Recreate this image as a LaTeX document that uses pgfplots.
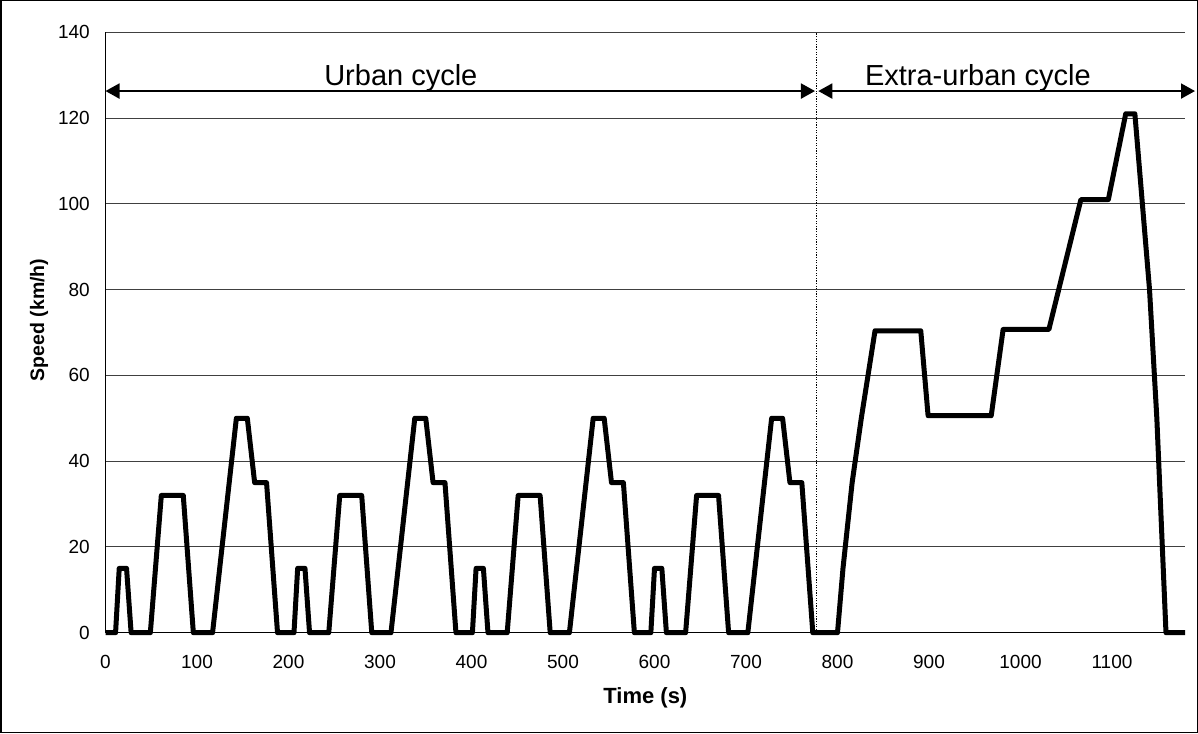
\documentclass[border=0pt]{standalone}
\usepackage{pgfplots}
\pgfplotsset{compat=1.18}
\usepackage{fontspec}
\setmainfont{Liberation Sans}
\usetikzlibrary{arrows.meta}

\begin{document}
\begin{tikzpicture}[x=1pt,y=1pt]
% outer frame of the chart
\draw[line width=1.5pt] (0.75,0.75) rectangle (1197.25,732.25);
\begin{axis}[
  at={(105.5pt,100.3pt)}, anchor=south west,
  scale only axis, width=1079.7pt, height=600.4pt,
  xmin=0, xmax=1180, ymin=0, ymax=140,
  xtick={0,100,...,1100}, ytick={0,20,...,140},
  axis x line*=bottom, axis y line*=left,
  axis line style={black, line width=1pt},
  major tick length=0pt,
  ymajorgrids, major grid style={black!75, line width=1pt},
  /pgf/number format/assume math mode=true,
  /pgf/number format/1000 sep={},
  ticklabel style={font=\fontsize{19}{22}\selectfont, inner sep=0pt},
  xticklabel style={anchor=north, yshift=-22pt},
  yticklabel style={anchor=east, xshift=-15.5pt},
  xlabel={Time (s)},
  xlabel style={at={(rel axis cs:0.5,-0.1088)}, anchor=center,
    font=\bfseries\fontsize{22}{26}\selectfont},
  ylabel={Speed (km/h)},
  ylabel style={at={(rel axis cs:-0.0616,0.5208)}, anchor=center,
    font=\bfseries\fontsize{19.5}{23}\selectfont},
  clip=false,
]
\draw[black, line width=1.3pt, dash pattern=on 1.3pt off 1.3pt] (axis cs:777,0) -- (axis cs:777,140);

\addplot[black, line width=5pt, line join=round] coordinates {
  (0,0) (11,0) (15,15) (23,15) (28,0) (49,0) (61,32) (85,32) (96,0)
  (117,0) (143,50) (155,50) (163,35) (176,35) (188,0) (195,0)
  (206,0) (210,15) (218,15) (223,0) (244,0) (256,32) (280,32) (291,0)
  (312,0) (338,50) (350,50) (358,35) (371,35) (383,0) (390,0)
  (401,0) (405,15) (413,15) (418,0) (439,0) (451,32) (475,32) (486,0)
  (507,0) (533,50) (545,50) (553,35) (566,35) (578,0) (585,0)
  (596,0) (600,15) (608,15) (613,0) (634,0) (646,32) (670,32) (681,0)
  (702,0) (728,50) (740,50) (748,35) (761,35) (773,0) (780,0)
  (800,0) (806,15) (816,35) (826,50) (841,70.4) (891,70.4) (899,50.6)
  (968,50.6) (981,70.7) (1031,70.7) (1066,101) (1096,101) (1115,121)
  (1125,121) (1141,80) (1149,50) (1159,0) (1180,0)
};

\draw[line width=2pt, {Triangle[length=14pt,width=15pt]}-{Triangle[length=14pt,width=15pt]}]
  (axis cs:0,126.3) -- (axis cs:775.4,126.3);
\draw[line width=2pt, {Triangle[length=14pt,width=15pt]}-{Triangle[length=14pt,width=15pt]}]
  (axis cs:779,126.3) -- (axis cs:1190.7,126.3);
\node[anchor=base, font=\fontsize{29}{34}\selectfont] at (axis cs:322.8,127.5) {Urban cycle};
\node[anchor=base, font=\fontsize{29}{34}\selectfont] at (axis cs:953.4,127.5) {Extra-urban cycle};
\end{axis}
\end{tikzpicture}
\end{document}
